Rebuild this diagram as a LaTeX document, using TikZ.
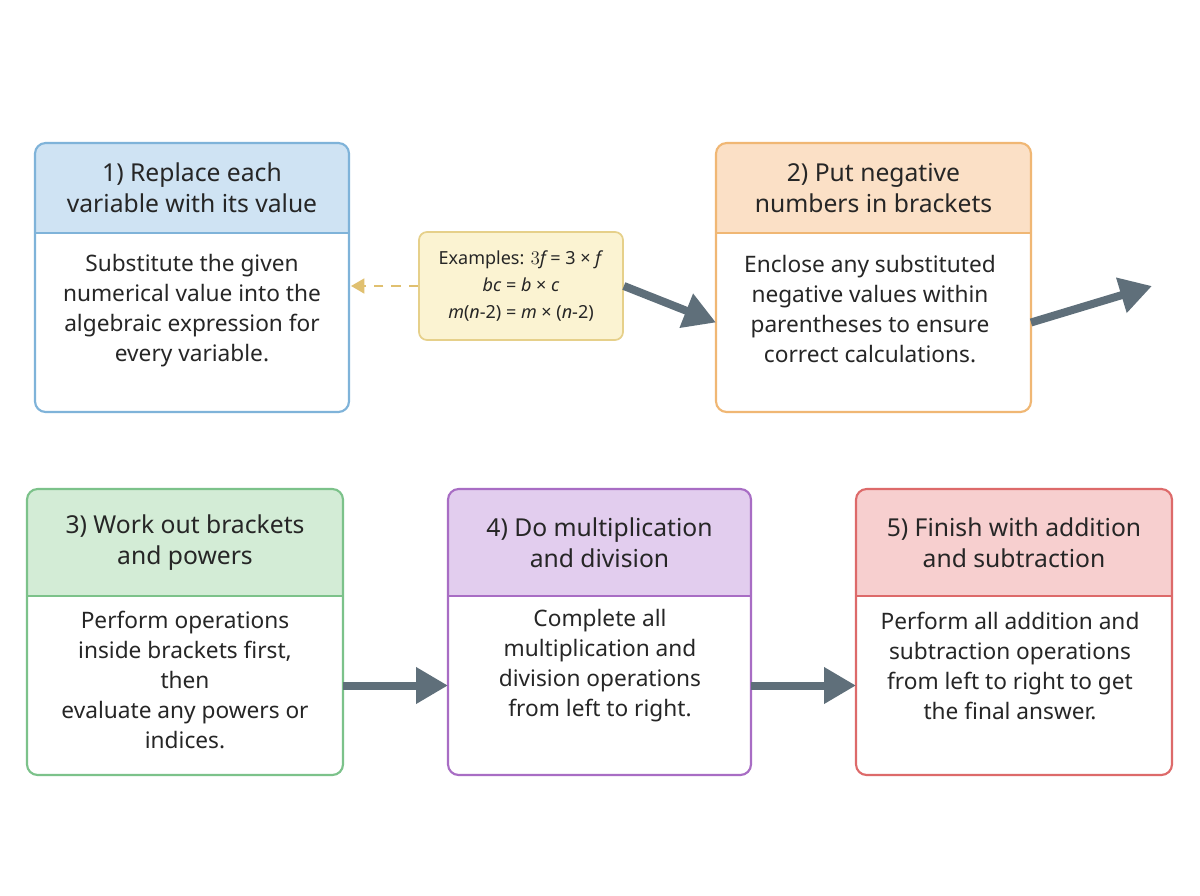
\documentclass[tikz,border=0pt]{standalone}
\usepackage{fontspec}
\setmainfont{Noto Sans}
\usetikzlibrary{arrows.meta}
\definecolor{bB}{HTML}{7FB3D9}\definecolor{fB}{HTML}{CFE3F3}
\definecolor{bO}{HTML}{F0B774}\definecolor{fO}{HTML}{FBE0C6}
\definecolor{bG}{HTML}{7CC28A}\definecolor{fG}{HTML}{D3ECD6}
\definecolor{bP}{HTML}{A86DC4}\definecolor{fP}{HTML}{E2CDEE}
\definecolor{bR}{HTML}{DD6A6A}\definecolor{fR}{HTML}{F7CFCF}
\definecolor{bY}{HTML}{E6D08A}\definecolor{fY}{HTML}{FBF3D2}
\definecolor{arr}{HTML}{5F6F7A}\definecolor{dsh}{HTML}{E0C070}
\tikzset{
 flow/.style={draw=arr,line width=6pt,-{Triangle[length=24pt,width=26pt]},shorten >=0pt},
 ttl/.style={font=\fontsize{18.5}{23}\selectfont\bfseries,align=center,text=black!85},
 bdy/.style={font=\fontsize{17}{22.5}\selectfont,align=center,text=black!85},
}
\newcommand{\stepbox}[9]{%
 \begin{scope}
 \clip[rounded corners=8pt] (#2,#3) rectangle (#4,#5);
 \fill[#8] (#2,#3) rectangle (#4,#6);
 \end{scope}
 \draw[#7,line width=1.6pt,rounded corners=8pt] (#2,#3) rectangle (#4,#5) node[coordinate](#1){};
 \draw[#7,line width=1.6pt] (#2,#6) -- (#4,#6);
 \coordinate (#1L) at (#2,{(#6+#5)/2});
 \coordinate (#1R) at (#4,{(#6+#5)/2});
 \node[ttl] (#1t) at ({(#2+#4)/2},{(#3+#6)/2}) {#9};
}
\begin{document}
\begin{tikzpicture}[x=0.75pt,y=-0.75pt]
\useasboundingbox (0,0) rectangle (1200,896);
\fill[white] (0,0) rectangle (1200,896);
\stepbox{b1}{35}{143}{349}{412}{233}{bB}{fB}{1) Replace each\\variable with its value}
\node[bdy] (b1b) at (192,311) {Substitute the given\\numerical value into the\\algebraic expression for\\every variable.};
\stepbox{b2}{716}{143}{1031}{412}{233}{bO}{fO}{2) Put negative\\numbers in brackets}
\node[bdy] (b2b) at (870,309) {Enclose any substituted\\negative values within\\parentheses to ensure\\correct calculations.};
\stepbox{b3}{27}{489}{343}{775}{596}{bG}{fG}{3) Work out brackets\\and powers}
\node[bdy] (b3b) at (185,680) {Perform operations\\inside brackets first,\\then\\evaluate any powers or\\indices.};
\stepbox{b4}{448}{489}{751}{775}{596}{bP}{fP}{4) Do multiplication\\and division}
\node[bdy] (b4b) at (600,666) {Complete all\\multiplication and\\division operations\\from left to right.};
\stepbox{b5}{856}{489}{1172}{775}{596}{bR}{fR}{5) Finish with addition\\and subtraction}
\node[bdy] (b5b) at (1010,666) {Perform all addition and\\subtraction operations\\from left to right to get\\the final answer.};
\node[draw=bY,fill=fY,line width=1.3pt,rounded corners=6pt,minimum width=204*0.75pt,minimum height=108*0.75pt,font=\fontsize{13.5}{20}\selectfont,align=center,text=black!85] (ex) at (521,286)
 {Examples: $3\mathit{f}$ = 3 × \textit{f}\\\textit{bc} = \textit{b} × \textit{c}\\\textit{m}(\textit{n}-2) = \textit{m} × (\textit{n}-2)};
\coordinate (end2) at (1152,286);
\coordinate (b1e) at (351,286);
\draw[flow] (ex.east) -- (b2L);
\draw[flow] (b2R) -- (end2);
\draw[flow] (b3R) -- (b4L);
\draw[flow] (b4R) -- (b5L);
\draw[dsh,line width=2pt,dash pattern=on 7pt off 6pt,-{Triangle[length=10pt,width=11pt]}] (ex.west) -- (b1e);
\end{tikzpicture}
\end{document}
